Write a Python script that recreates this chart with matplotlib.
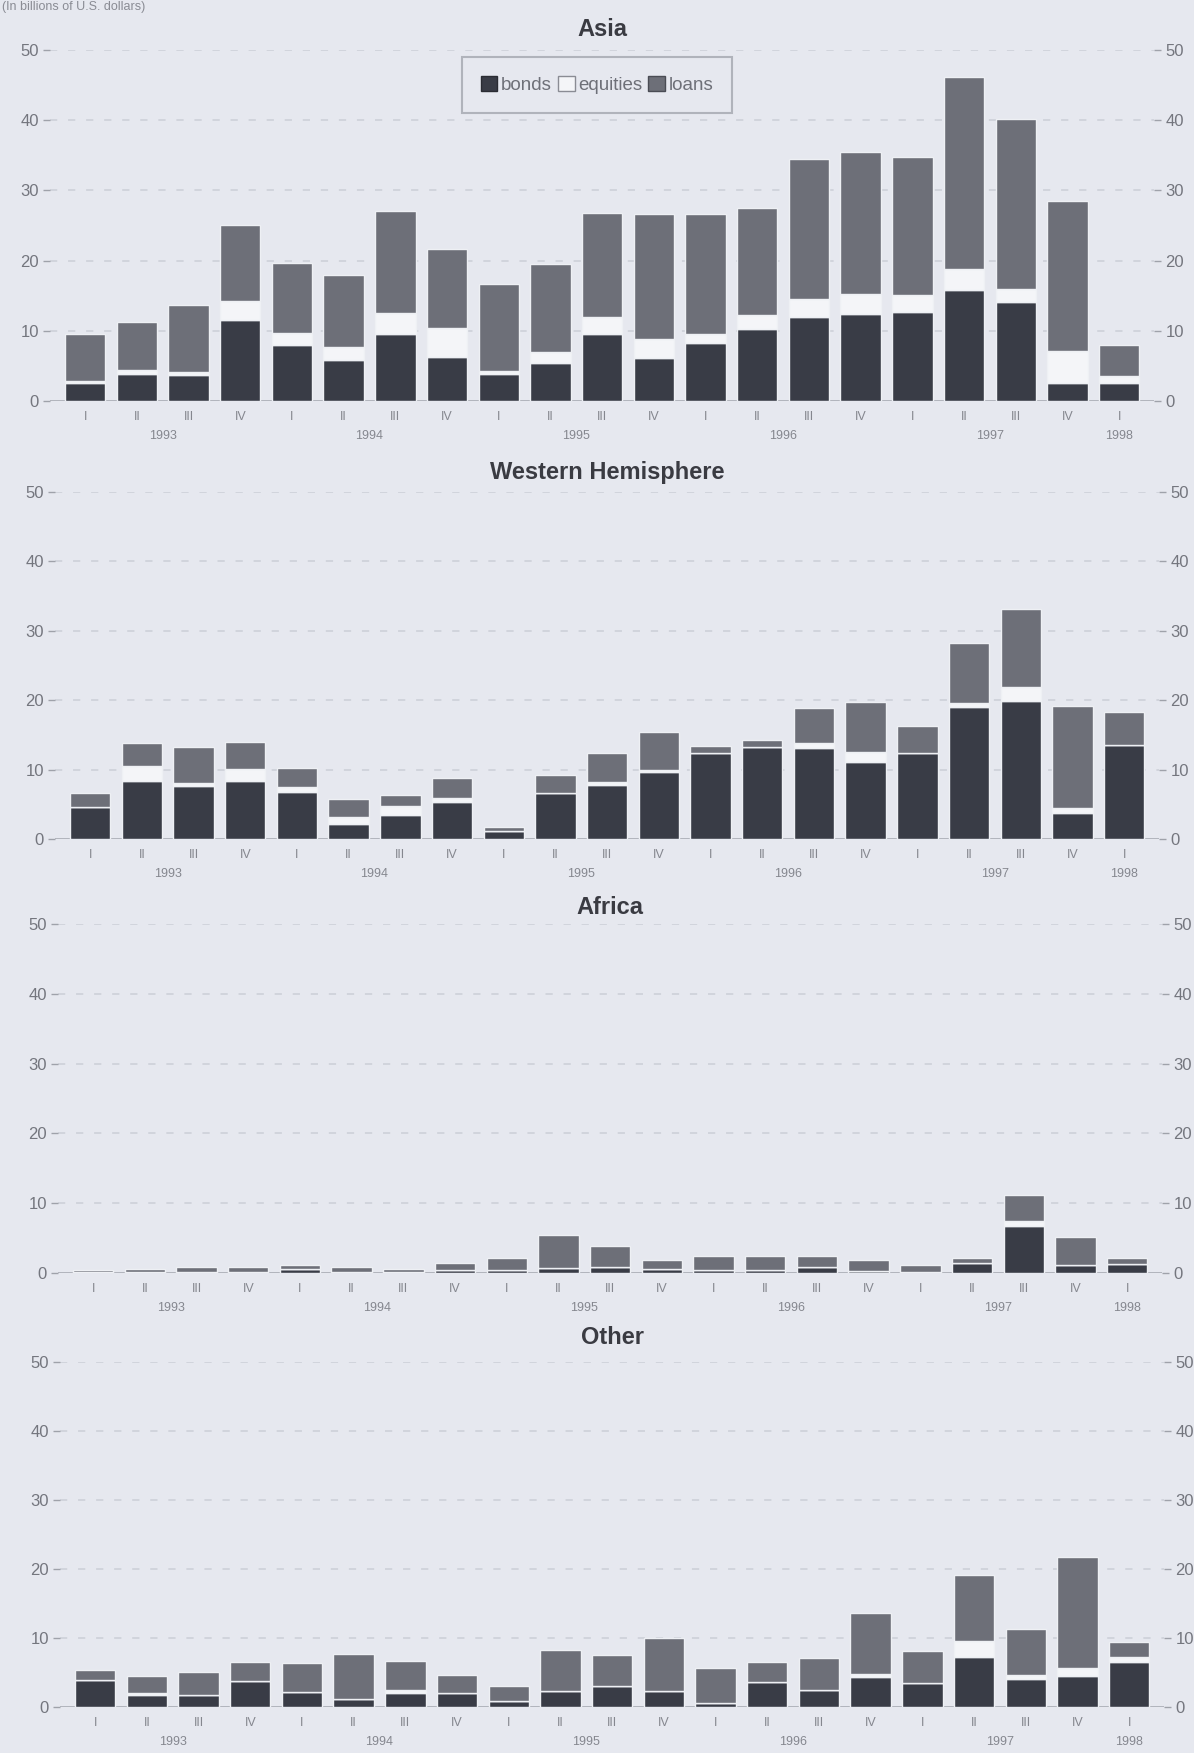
import matplotlib
matplotlib.use("Agg")
import matplotlib.pyplot as plt
from matplotlib.patches import Patch
from matplotlib.transforms import blended_transform_factory, offset_copy

plt.rcParams['font.family'] = ['Liberation Sans', 'DejaVu Sans']

# Quarterly flows, 1993 Q1 - 1998 Q1 (billions of U.S. dollars)
quarters = ['I', 'II', 'III', 'IV'] * 5 + ['I']
years = ['1993', '1994', '1995', '1996', '1997', '1998']
year_pos = [1.5, 5.5, 9.5, 13.5, 17.5, 20]

asia_bonds = [2.5, 3.8, 3.7, 11.5, 8.0, 5.9, 9.5, 6.2, 3.9, 5.4, 9.5, 6.1, 8.3, 10.3, 11.9, 12.4, 12.7, 15.8, 14.1, 2.6, 2.5]
asia_equities = [0.4, 0.6, 0.5, 2.8, 1.7, 1.8, 3.1, 4.2, 0.4, 1.6, 2.5, 2.8, 1.2, 1.9, 2.6, 2.8, 2.4, 3.0, 1.9, 4.5, 1.0]
asia_loans = [6.6, 6.8, 9.5, 10.7, 10.0, 10.3, 14.5, 11.2, 12.4, 12.5, 14.8, 17.8, 17.1, 15.3, 20.0, 20.2, 19.6, 27.3, 24.1, 21.4, 4.5]

wh_bonds = [4.6, 8.3, 7.6, 8.4, 6.8, 2.2, 3.5, 5.3, 1.2, 6.6, 7.8, 9.6, 12.4, 13.2, 13.1, 11.1, 12.4, 19.0, 19.9, 3.7, 13.5]
wh_equities = [0.0, 2.2, 0.5, 1.7, 0.7, 1.0, 1.2, 0.6, 0.0, 0.0, 0.4, 0.3, 0.0, 0.0, 0.8, 1.4, 0.0, 0.6, 2.0, 0.8, 0.0]
wh_loans = [2.1, 3.3, 5.2, 3.9, 2.7, 2.6, 1.7, 2.9, 0.5, 2.6, 4.2, 5.5, 1.0, 1.0, 5.0, 7.2, 3.9, 8.7, 11.2, 14.7, 4.8]

africa_bonds = [0.1, 0.1, 0.2, 0.2, 0.6, 0.2, 0.2, 0.5, 0.4, 0.7, 0.8, 0.6, 0.5, 0.4, 0.8, 0.3, 0.2, 1.5, 6.7, 1.2, 1.3]
africa_equities = [0.0, 0.0, 0.0, 0.0, 0.0, 0.0, 0.0, 0.0, 0.0, 0.0, 0.0, 0.0, 0.0, 0.0, 0.0, 0.0, 0.0, 0.0, 0.8, 0.0, 0.0]
africa_loans = [0.4, 0.5, 0.6, 0.7, 0.6, 0.6, 0.4, 1.0, 1.7, 4.8, 3.1, 1.3, 2.0, 2.1, 1.6, 1.5, 1.0, 0.6, 3.7, 3.9, 0.8]

other_bonds = [3.9, 1.8, 1.7, 3.8, 2.2, 1.2, 2.1, 2.0, 0.8, 2.3, 3.1, 2.3, 0.6, 3.6, 2.5, 4.3, 3.5, 7.3, 4.0, 4.5, 6.5]
other_equities = [0.0, 0.2, 0.0, 0.0, 0.0, 0.0, 0.3, 0.0, 0.0, 0.0, 0.0, 0.0, 0.0, 0.0, 0.0, 0.5, 0.0, 2.2, 0.6, 1.1, 0.7]
other_loans = [1.4, 2.5, 3.4, 2.7, 4.2, 6.5, 4.3, 2.6, 2.3, 6.0, 4.4, 7.7, 5.0, 2.9, 4.6, 8.8, 4.6, 9.6, 6.7, 16.2, 2.2]

regions = ['Asia', 'Western Hemisphere', 'Africa', 'Other']
bonds = [asia_bonds, wh_bonds, africa_bonds, other_bonds]
equities = [asia_equities, wh_equities, africa_equities, other_equities]
loans = [asia_loans, wh_loans, africa_loans, other_loans]

BG = '#e6e8ef'
C_BONDS = '#393c46'
C_EQ = '#f4f5f8'
C_LOANS = '#6d6f78'
C_TEXT = '#3a3b42'
C_TICK = '#74767e'

W, H = 1194, 1753
fig = plt.figure(figsize=(W / 100, H / 100), dpi=100, facecolor=BG)

# panel geometry in pixels: (y of zero, y of 50, horizontal shift)
panels = [(401, 50, 0), (839, 492, 5), (1273, 924, 8), (1707, 1362, 10)]
title_y = [30, 472, 908, 1338]
x0, x1 = -0.68, 20.68
pitch = 51.7
left_px = 50

for i, name in enumerate(regions):
    y0, y50, dx = panels[i]
    width_px = (x1 - x0) * pitch
    ax = fig.add_axes([(left_px + dx) / W, 1 - y0 / H, width_px / W, (y0 - y50) / H])
    ax.set_facecolor('none')
    ax.set_xlim(x0, x1)
    ax.set_ylim(0, 50)
    for s in ax.spines.values():
        s.set_visible(False)

    for g in range(10, 51, 10):
        ax.axhline(g, color='#cfd2da', lw=1.3, ls=(0, (4, 6)), zorder=0)
    ax.axhline(0, color='#a8abb3', lw=1.2, zorder=1)

    xs = list(range(len(quarters)))
    b = bonds[i]
    e = equities[i]
    l = loans[i]
    be = [p + q for p, q in zip(b, e)]
    kw = dict(width=0.78, edgecolor='#eef0f4', linewidth=1.0, zorder=2)
    ax.bar(xs, b, color=C_BONDS, **kw)
    ax.bar(xs, e, bottom=b, color=C_EQ, **kw)
    ax.bar(xs, l, bottom=be, color=C_LOANS, **kw)

    ax.set_yticks(range(0, 51, 10))
    ax.tick_params(axis='y', which='both', left=True, right=True, labelleft=True,
                   labelright=True, length=5, width=1, color='#9fa2aa',
                   labelsize=12, labelcolor=C_TICK, pad=3)
    ax.set_xticks(xs)
    ax.set_xticklabels(quarters)
    ax.tick_params(axis='x', length=0, labelsize=9, labelcolor='#85878f', pad=7)

    trans = offset_copy(blended_transform_factory(ax.transData, ax.transAxes),
                        fig=fig, x=0, y=-35 * 0.72, units='points')
    for yr, xp in zip(years, year_pos):
        ax.text(xp, 0, yr, transform=trans, ha='center', va='center',
                fontsize=9, color='#85878f')

    fig.text((left_px + dx + (10 - x0) * pitch) / W, 1 - title_y[i] / H, name,
             ha='center', va='center', fontsize=17, fontweight='bold', color=C_TEXT)

handles = [Patch(facecolor=C_BONDS, edgecolor='#2a2c33'),
           Patch(facecolor=C_EQ, edgecolor='#8a8c94'),
           Patch(facecolor=C_LOANS, edgecolor='#4a4c54')]
leg = fig.legend(handles, ['bonds', 'equities', 'loans'], loc='center',
                 bbox_to_anchor=(597 / W, 1 - 85 / H), ncol=3, fontsize=13.5,
                 handlelength=0.9, handleheight=0.9, handletextpad=0.2,
                 columnspacing=0.3, borderpad=1.0, frameon=True, fancybox=False,
                 labelcolor='#6e7078')
leg.get_frame().set_facecolor(BG)
leg.get_frame().set_edgecolor('#a3a6ae')
leg.get_frame().set_linewidth(1.5)

fig.text(2 / W, 1 - 1 / H, '(In billions of U.S. dollars)', ha='left', va='top',
         fontsize=9, color='#8a8c94')

fig.savefig('out.png', dpi=100, facecolor=BG)
